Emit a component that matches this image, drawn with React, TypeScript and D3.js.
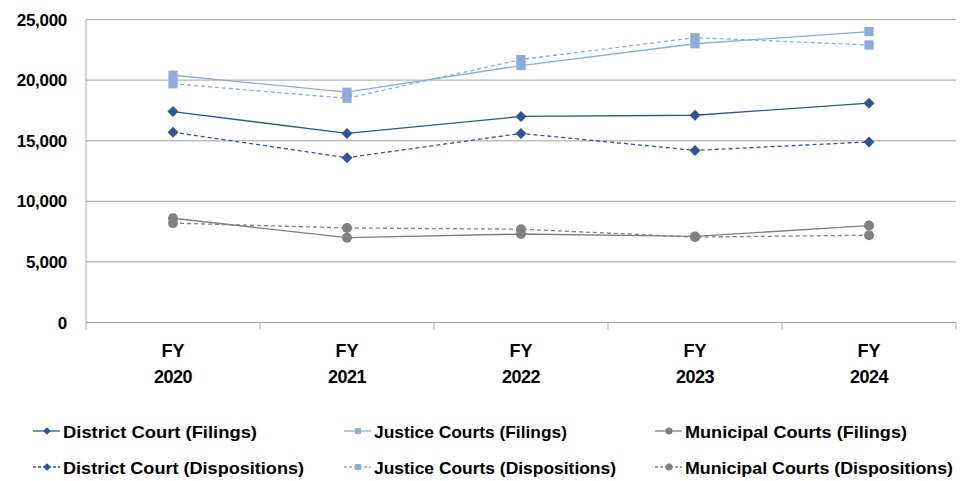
import React from "react";
import * as d3 from "d3";

const categories = ["2020", "2021", "2022", "2023", "2024"];
const districtFilings = [17400, 15600, 17000, 17100, 18100];
const districtDispositions = [15700, 13600, 15600, 14200, 14900];
const justiceFilings = [20400, 19000, 21200, 23000, 24000];
const justiceDispositions = [19700, 18500, 21700, 23500, 22900];
const municipalFilings = [8600, 7000, 7300, 7100, 8000];
const municipalDispositions = [8200, 7800, 7700, 7050, 7200];
const yTicks = [0, 5000, 10000, 15000, 20000, 25000];

type Series = { name: string; values: number[]; color: string; dashed: boolean; marker: string };

const series: Series[] = [
  { name: "District Court (Filings)", values: districtFilings, color: "#2F5597", dashed: false, marker: "diamond" },
  { name: "Justice Courts (Filings)", values: justiceFilings, color: "#8FAADC", dashed: false, marker: "square" },
  { name: "Municipal Courts (Filings)", values: municipalFilings, color: "#808080", dashed: false, marker: "circle" },
  { name: "District Court (Dispositions)", values: districtDispositions, color: "#2F5597", dashed: true, marker: "diamond" },
  { name: "Justice Courts (Dispositions)", values: justiceDispositions, color: "#8FAADC", dashed: true, marker: "square" },
  { name: "Municipal Courts (Dispositions)", values: municipalDispositions, color: "#808080", dashed: true, marker: "circle" },
];
const legendWidths = [194, 193, 222, 241, 242, 268];

const W = 968, H = 481;
const left = 86, right = 956, top = 19.5, bottom = 322.5;
const font = "'Liberation Sans', Arial, sans-serif";

function Marker({ type, x, y, color, s }: { type: string; x: number; y: number; color: string; s: number }) {
  if (type === "diamond") {
    const r = s * 0.55;
    return <path d={`M${x},${y - r}L${x + r},${y}L${x},${y + r}L${x - r},${y}Z`} fill={color} />;
  }
  if (type === "square") {
    return <rect x={x - s * 0.42} y={y - s * 0.42} width={s * 0.84} height={s * 0.84} fill={color} />;
  }
  return <circle cx={x} cy={y} r={s * 0.5} fill={color} />;
}

export default function App() {
  const x = d3.scaleBand<string>().domain(categories).range([left, right]);
  const y = d3.scaleLinear().domain([0, 25000]).range([bottom, top]);
  const line = d3
    .line<number>()
    .x((_, i) => (x(categories[i]) as number) + x.bandwidth() / 2)
    .y((v) => y(v));
  const boundaries = [...categories.map((c) => x(c) as number), right];
  const legendCols = [33, 344, 655];
  const legendRows = [431, 467];

  return (
    <svg width={W} height={H} style={{ position: "absolute", left: 0, top: 0, background: "#fff" }}>
      {yTicks.map((t) => (
        <g key={t}>
          <line x1={left} x2={right} y1={y(t)} y2={y(t)} stroke={t === 15000 ? "#BFBFBF" : "#A6A6A6"} strokeWidth={t === 15000 ? 1.5 : 1} />
          <text x={67} y={y(t) + 6} textAnchor="end" fontFamily={font} fontWeight="bold" fontSize={17} fill="#000" letterSpacing={-0.3}>
            {d3.format(",")(t)}
          </text>
        </g>
      ))}
      <line x1={left} x2={left} y1={top} y2={bottom} stroke="#A6A6A6" />
      {boundaries.map((b, i) => (
        <line key={i} x1={b} x2={b} y1={bottom} y2={bottom + 7} stroke="#A6A6A6" />
      ))}
      {categories.map((c) => {
        const cx = (x(c) as number) + x.bandwidth() / 2;
        return (
          <g key={c} fontFamily={font} fontWeight="bold" fontSize={18} textAnchor="middle">
            <text x={cx} y={357}>FY</text>
            <text x={cx} y={383} letterSpacing={-0.5}>{c}</text>
          </g>
        );
      })}
      {series.map((s) => (
        <g key={s.name}>
          <path d={line(s.values) as string} fill="none" stroke={s.color} strokeWidth={1.3} strokeDasharray={s.dashed ? "4,3" : undefined} />
          {s.values.map((v, i) => (
            <Marker key={i} type={s.marker} x={(x(categories[i]) as number) + x.bandwidth() / 2} y={y(v)} color={s.color} s={s.marker === "square" ? 11 : 10} />
          ))}
        </g>
      ))}
      {series.map((s, i) => {
        const lx = legendCols[i % 3];
        const ly = legendRows[Math.floor(i / 3)];
        return (
          <g key={"l" + s.name}>
            <line x1={lx} x2={lx + 27} y1={ly} y2={ly} stroke={s.color} strokeWidth={1.3} strokeDasharray={s.dashed ? "3,2" : undefined} />
            <Marker type={s.marker} x={lx + 14} y={ly} color={s.color} s={7} />
            <text x={lx + 30} y={ly + 7} fontFamily={font} fontWeight="bold" fontSize={17} textLength={legendWidths[i]} lengthAdjust="spacingAndGlyphs">
              {s.name}
            </text>
          </g>
        );
      })}
    </svg>
  );
}
